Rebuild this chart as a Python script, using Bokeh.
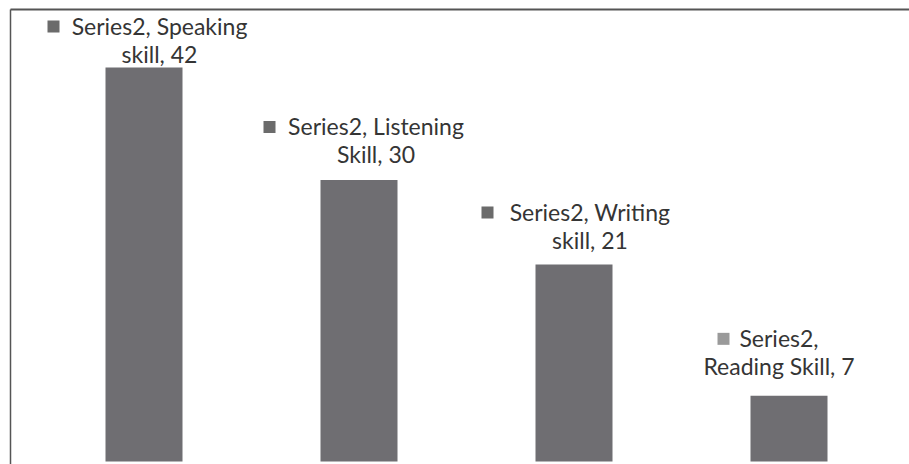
from bokeh.plotting import figure
from bokeh.models import Range1d, LinearAxis, FixedTicker, ColumnDataSource
from bokeh.core.properties import value
from bokeh.embed import file_html
from bokeh.resources import INLINE

# ---- data ----
categories = ["Speaking skill", "Listening Skill", "Writing skill", "Reading Skill"]
values = [42, 30, 21, 7]
series_name = "Series2"
label_line1 = ["Series2, Speaking", "Series2, Listening", "Series2, Writing", "Series2,"]
label_line2 = ["skill, 42", "Skill, 30", "skill, 21", "Reading Skill, 7"]

# ---- layout / style ----
W, H = 909, 464
LEFT, TOP = 10, 9
PX_X = 215.0          # pixels per category step
PX_Y = 9.38           # pixels per value unit
FIRST_CENTER = 143.5  # px of first bar centre
ZERO_Y = 461          # px of the zero line

x_start = (LEFT - FIRST_CENTER) / PX_X
x_end = (W - FIRST_CENTER) / PX_X
y_end = (ZERO_Y - TOP) / PX_Y
y_start = -(H - ZERO_Y) / PX_Y

text_dx = [15.5, 17, 16, -10]          # label centre offset from bar centre (px)
gap = [4, 16, 15, 20]                  # 2nd line baseline above bar top (px)
TEXT_SHIFT = 10                        # renderer baseline compensation (px)
square_dx = [-90.5, -89.5, -86.5, -65.5]  # square centre offset (px)
square_colors = ["#6b6b6b", "#6b6b6b", "#6b6b6b", "#9a9a9a"]
LINE_H = 28
FONT = "Lato"
FONT_SIZE = "23px"
TEXT_COLOR = "#353535"
BAR_COLOR = "#6f6e72"

idx = list(range(len(categories)))

p = figure(width=W, height=H, output_backend="svg", toolbar_location=None,
           x_range=Range1d(x_start, x_end), y_range=Range1d(y_start, y_end),
           x_axis_location=None, y_axis_location=None,
           min_border_left=LEFT, min_border_top=TOP, min_border_right=0, min_border_bottom=0)
p.grid.visible = False
p.outline_line_color = None
p.background_fill_color = "white"
p.border_fill_color = "white"

for loc, w in (("above", 2), ("left", 1.5)):
    ax = LinearAxis(ticker=FixedTicker(ticks=[]), axis_line_color="#555555", axis_line_width=w,
                    major_tick_out=0, major_tick_in=0, minor_tick_out=0, minor_tick_in=0,
                    major_label_standoff=0, major_label_text_font_size="0px")
    p.add_layout(ax, loc)

src = ColumnDataSource(dict(
    x=idx, top=values, l1=label_line1, l2=label_line2,
    dx=text_dx,
    y2off=[-g - TEXT_SHIFT for g in gap],
    y1off=[-g - LINE_H - TEXT_SHIFT for g in gap],
    sx=[i + d / PX_X for i, d in zip(idx, square_dx)],
    sy=[v + (g + LINE_H + 9) / PX_Y for v, g in zip(values, gap)],
    sc=square_colors,
))

p.vbar(x="x", top="top", bottom=0, width=77 / PX_X, source=src, fill_color=BAR_COLOR, line_color=None)

p.text(x="x", y="top", text="l1", x_offset="dx", y_offset="y1off", source=src,
       text_align="center", text_baseline="alphabetic", text_font=value(FONT),
       text_font_size=FONT_SIZE, text_color=TEXT_COLOR)
p.text(x="x", y="top", text="l2", x_offset="dx", y_offset="y2off", source=src,
       text_align="center", text_baseline="alphabetic", text_font=value(FONT),
       text_font_size=FONT_SIZE, text_color=TEXT_COLOR)
p.rect(x="sx", y="sy", width=12, height=12, width_units="screen", height_units="screen",
       source=src, fill_color="sc", line_color=None)

open("out.html", "w").write(file_html(p, INLINE))
